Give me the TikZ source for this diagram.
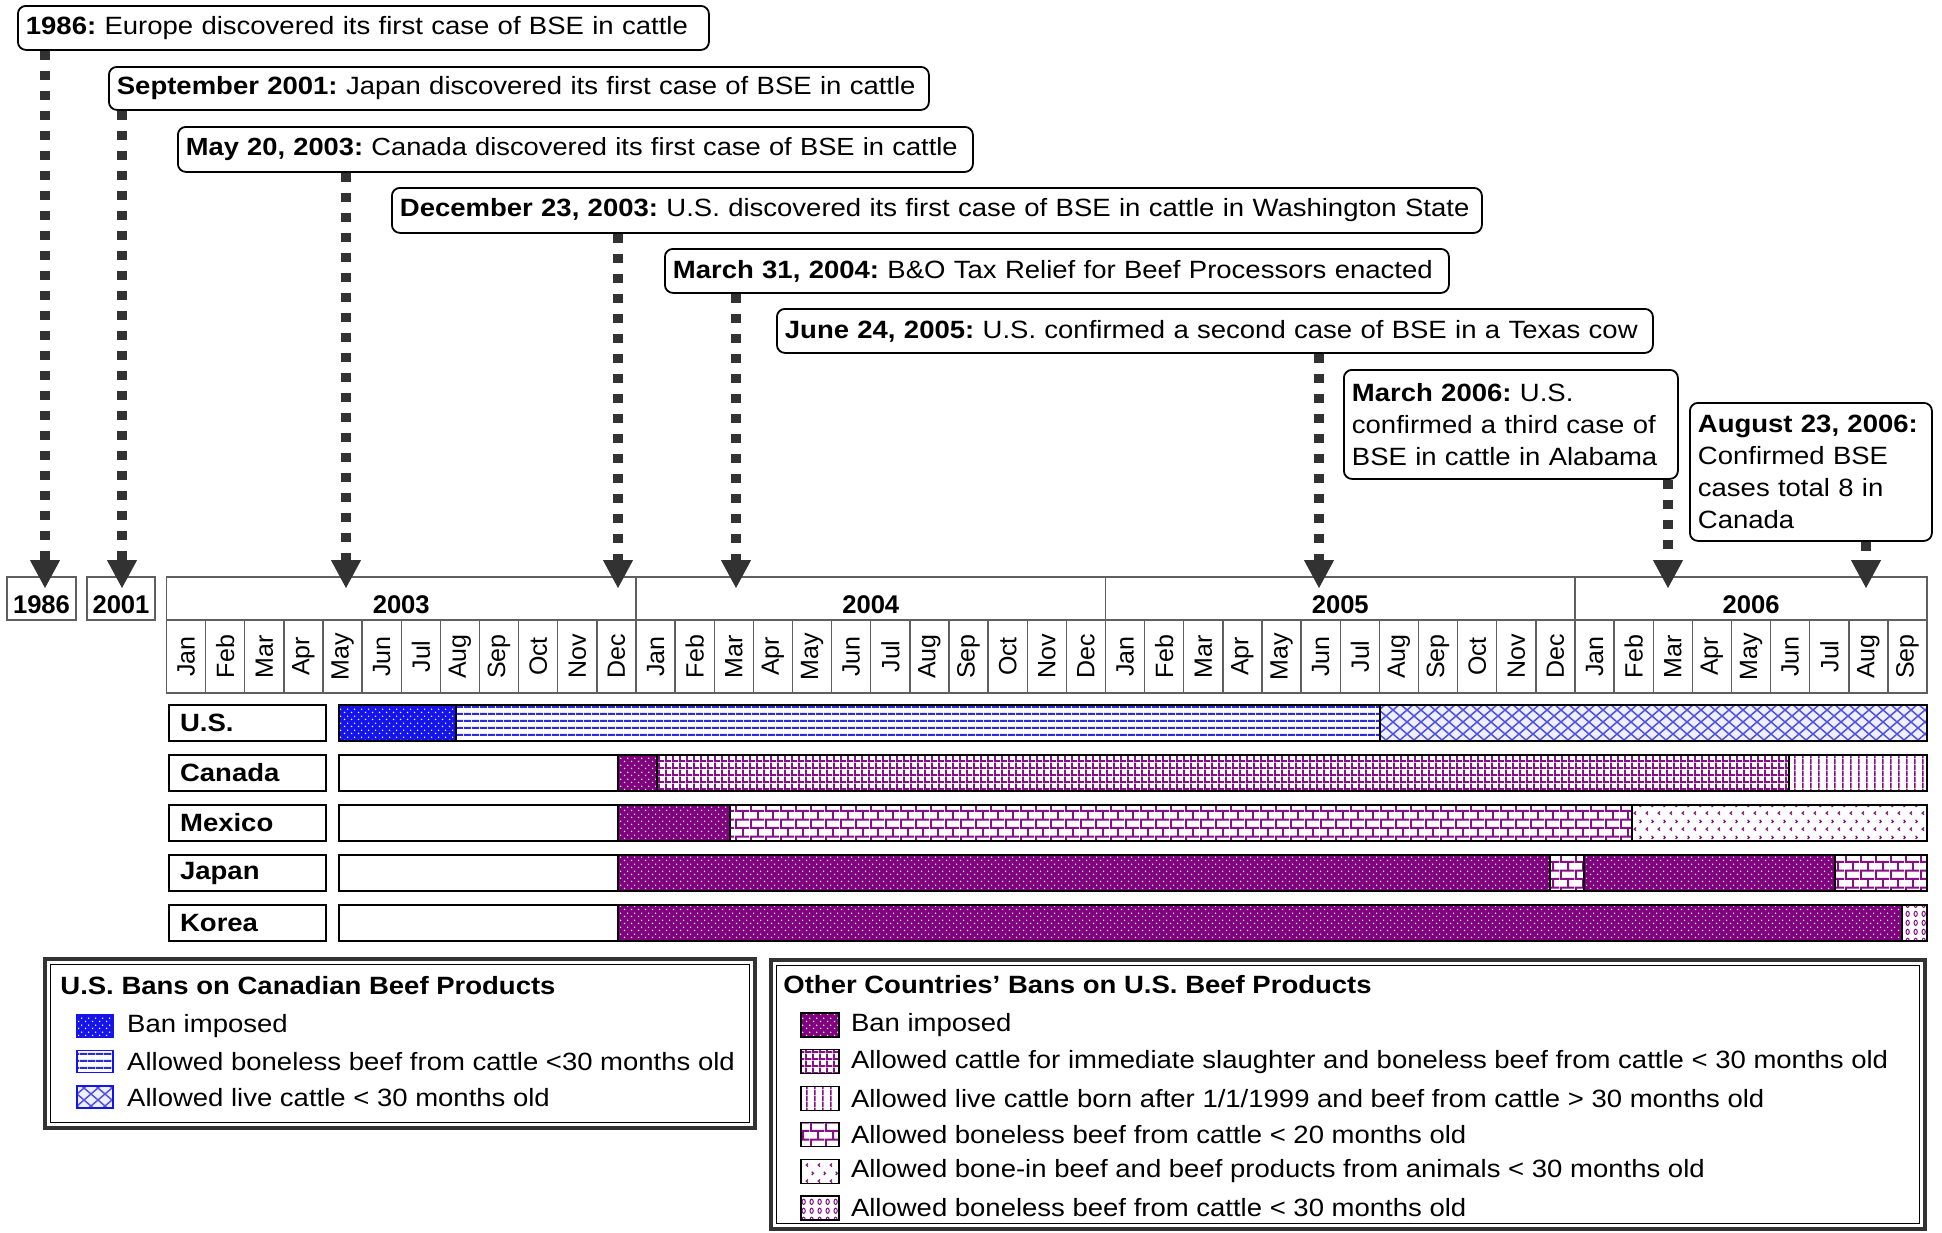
\documentclass[tikz,border=0pt]{standalone}
\usepackage{fontspec}
\setmainfont{Liberation Sans}
\newfontfamily\widesf[FakeStretch=1.1]{Liberation Sans}
\usepackage{tikz}
\usetikzlibrary{arrows.meta, positioning, patterns}
\frenchspacing

\definecolor{gridgray}{RGB}{95,95,95}
\definecolor{arrowgray}{RGB}{50,50,50}
\definecolor{usblue}{RGB}{20,20,235}
\definecolor{lineblue}{RGB}{45,45,215}
\definecolor{hatchblue}{RGB}{80,80,225}
\definecolor{hatchbg}{RGB}{238,240,255}
\definecolor{banpurple}{RGB}{128,0,128}
\definecolor{allowpurple}{RGB}{135,15,135}

% fill patterns for the bars
\pgfdeclarepatternformonly{bandots}{\pgfpointorigin}{\pgfpoint{3.5pt}{3.5pt}}{\pgfpoint{3.5pt}{3.5pt}}{
  \pgfpathcircle{\pgfpoint{0.875pt}{0.875pt}}{0.45pt}
  \pgfpathcircle{\pgfpoint{2.625pt}{2.625pt}}{0.45pt}
  \pgfusepath{fill}}
\pgfdeclarepatternformonly{hstripes}{\pgfpointorigin}{\pgfpoint{4pt}{3.4pt}}{\pgfpoint{4pt}{3.4pt}}{
  \pgfpathrectangle{\pgfpointorigin}{\pgfpoint{4pt}{1.1pt}}
  \pgfusepath{fill}}
\pgfdeclarepatternformonly{xhatch}{\pgfpoint{-0.5pt}{-0.5pt}}{\pgfpoint{7.5pt}{6.5pt}}{\pgfpoint{7pt}{6pt}}{
  \pgfsetlinewidth{0.75pt}
  \pgfpathmoveto{\pgfpoint{0pt}{0pt}}\pgfpathlineto{\pgfpoint{7pt}{6pt}}
  \pgfpathmoveto{\pgfpoint{0pt}{6pt}}\pgfpathlineto{\pgfpoint{7pt}{0pt}}
  \pgfusepath{stroke}}
\pgfdeclarepatternformonly{smallgrid}{\pgfpointorigin}{\pgfpoint{3.5pt}{3.3pt}}{\pgfpoint{3.5pt}{3.3pt}}{
  \pgfpathrectangle{\pgfpointorigin}{\pgfpoint{1pt}{3.3pt}}
  \pgfpathrectangle{\pgfpointorigin}{\pgfpoint{3.5pt}{1pt}}
  \pgfusepath{fill}}
\pgfdeclarepatternformonly{vstripes}{\pgfpointorigin}{\pgfpoint{3.8pt}{3pt}}{\pgfpoint{3.8pt}{3pt}}{
  \pgfpathrectangle{\pgfpointorigin}{\pgfpoint{0.85pt}{3pt}}
  \pgfusepath{fill}}
\pgfdeclarepatternformonly{brickwall}{\pgfpointorigin}{\pgfpoint{7.5pt}{8.4pt}}{\pgfpoint{7.5pt}{8.4pt}}{
  \pgfpathrectangle{\pgfpointorigin}{\pgfpoint{7.5pt}{1pt}}
  \pgfpathrectangle{\pgfpoint{0pt}{4.2pt}}{\pgfpoint{7.5pt}{1pt}}
  \pgfpathrectangle{\pgfpointorigin}{\pgfpoint{1pt}{4.2pt}}
  \pgfpathrectangle{\pgfpoint{3.75pt}{4.2pt}}{\pgfpoint{1pt}{4.2pt}}
  \pgfusepath{fill}}
\pgfdeclarepatternformonly{chevrons}{\pgfpointorigin}{\pgfpoint{6pt}{8pt}}{\pgfpoint{6pt}{8pt}}{
  \pgfsetlinewidth{0.65pt}
  \pgfpathmoveto{\pgfpoint{2.1pt}{1.2pt}}\pgfpathlineto{\pgfpoint{1.2pt}{2pt}}\pgfpathlineto{\pgfpoint{2.1pt}{2.8pt}}
  \pgfpathmoveto{\pgfpoint{4.1pt}{5.2pt}}\pgfpathlineto{\pgfpoint{5pt}{6pt}}\pgfpathlineto{\pgfpoint{4.1pt}{6.8pt}}
  \pgfusepath{stroke}}
\pgfdeclarepatternformonly{ovals}{\pgfpointorigin}{\pgfpoint{4pt}{4.5pt}}{\pgfpoint{4pt}{4.5pt}}{
  \pgfsetlinewidth{0.55pt}
  \pgfpathellipse{\pgfpoint{2pt}{2.25pt}}{\pgfpoint{0.9pt}{0pt}}{\pgfpoint{0pt}{1.4pt}}
  \pgfusepath{stroke}}

\tikzstyle{callout} = [draw, rectangle, rounded corners=4pt, line width=0.9pt, fill=white, anchor=north west, align=left, inner xsep=4pt, inner ysep=1pt, font=\widesf\fontsize{12.5}{16}\selectfont]
\tikzstyle{evarrow} = [draw=arrowgray, line width=5pt, dash pattern=on 4.5pt off 5.5pt, -{Triangle[width=15pt, length=14pt, line width=0.5pt]}]
\tikzstyle{yearcell} = [draw=gridgray, line width=0.7pt, minimum height=21.5pt, inner sep=0pt, text height=14.5pt, text depth=0pt, font=\bfseries\fontsize{12.8}{15}\selectfont]
\tikzstyle{monthcell} = [draw=gridgray, line width=0.7pt, rotate=90, minimum width=36.5pt, minimum height=19.5625pt, inner sep=0pt, font=\fontsize{12.5}{15}\selectfont]
\tikzstyle{country} = [draw, line width=1.1pt, anchor=west, minimum height=18pt, text width=67.5pt, inner xsep=5.5pt, inner ysep=0pt, align=left, font=\widesf\bfseries\fontsize{12.5}{15}\selectfont]
\tikzstyle{seg} = [draw=black, line width=0.9pt]
\tikzstyle{usban} = [preaction={fill=usblue}, pattern=bandots, pattern color=white]
\tikzstyle{usbone} = [preaction={fill=white}, pattern=hstripes, pattern color=lineblue]
\tikzstyle{uslive} = [preaction={fill=hatchbg}, pattern=xhatch, pattern color=hatchblue]
\tikzstyle{ban} = [preaction={fill=banpurple}, pattern=bandots, pattern color=white]
\tikzstyle{slaughter} = [preaction={fill=white}, pattern=smallgrid, pattern color=allowpurple]
\tikzstyle{livecattle} = [preaction={fill=white}, pattern=vstripes, pattern color=allowpurple]
\tikzstyle{under20} = [preaction={fill=white}, pattern=brickwall, pattern color=allowpurple]
\tikzstyle{bonein} = [preaction={fill=white}, pattern=chevrons, pattern color=allowpurple]
\tikzstyle{under30} = [preaction={fill=white}, pattern=ovals, pattern color=allowpurple]
\tikzstyle{legouter} = [draw=black!80, line width=1.6pt]
\tikzstyle{leginner} = [draw=black, line width=0.6pt]
\tikzstyle{legtitle} = [anchor=west, inner sep=0pt, font=\widesf\bfseries\fontsize{12.5}{15}\selectfont]
\tikzstyle{legtext} = [inner sep=0pt, font=\widesf\fontsize{12.5}{15}\selectfont]
\tikzstyle{swatch} = [line width=0.8pt, minimum width=18pt, minimum height=11pt, inner sep=0pt]
\tikzstyle{swatchb} = [draw=black, line width=0.6pt, minimum width=19pt, minimum height=12pt, inner sep=0pt]

\begin{document}
\begin{tikzpicture}[x=0.5pt, y=-0.5pt]
    \useasboundingbox (0,0) rectangle (1942,1232);

    % events
    \node[callout, text width=337.5pt, minimum height=22pt] (e1986) at (17,5) {\textbf{1986:} Europe discovered its first case of BSE in cattle};
    \node[callout, text width=402pt, minimum height=21.5pt] (e2001) at (108,66) {\textbf{September 2001:} Japan discovered its first case of BSE in cattle};
    \node[callout, text width=389.5pt, minimum height=22.5pt, font=\widesf\fontsize{12.4}{16}\selectfont] (e2003a) at (177,126) {\textbf{May 20, 2003:} Canada discovered its first case of BSE in cattle};
    \node[callout, text width=537pt, minimum height=22.5pt] (e2003b) at (391,187) {\textbf{December 23, 2003:} U.S. discovered its first case of BSE in cattle in Washington State};
    \node[callout, text width=384pt, minimum height=22pt] (e2004) at (664,248) {\textbf{March 31, 2004:} B\&O Tax Relief for Beef Processors enacted};
    \node[callout, text width=430pt, minimum height=22pt] (e2005) at (776,308) {\textbf{June 24, 2005:} U.S. confirmed a second case of BSE in a Texas cow};
    \node[callout, text width=159pt, minimum height=54.5pt] (e2006a) at (1343,369) {\textbf{March 2006:} U.S.\\confirmed a third case of\\BSE in cattle in Alabama};
    \node[callout, text width=113pt, minimum height=69pt] (e2006b) at (1689,402) {\textbf{August 23, 2006:}\\Confirmed BSE\\cases total 8 in\\Canada};

    % time axis
    \node[yearcell, minimum width=34.5pt] (y1986) at (41.5,598.5) {1986};
    \node[yearcell, minimum width=34pt] (y2001) at (121,598.5) {2001};
    \node[yearcell, minimum width=234.75pt] (y2003) at (401.25,598.5) {2003};
    \node[yearcell, minimum width=234.75pt] (y2004) at (870.75,598.5) {2004};
    \node[yearcell, minimum width=234.75pt] (y2005) at (1340.25,598.5) {2005};
    \node[yearcell, minimum width=176.06pt] (y2006) at (1751.06,598.5) {2006};
    \foreach \yr/\last [count=\y from 0] in {2003/11,2004/11,2005/11,2006/8} {
        \foreach \mon [count=\k from 0] in {Jan,Feb,Mar,Apr,May,Jun,Jul,Aug,Sep,Oct,Nov,Dec} {
            \ifnum\k>\last\relax\else
                \node[monthcell] (m\yr-\k) at ({166.5+39.125*(12*\y+\k+0.5)},656.5) {\mon};
            \fi
        }
    }

    % arrow tips on the axis
    \coordinate (t1986) at (45,588);
    \coordinate (t2001) at (122,588);
    \coordinate (t2003a) at (346,588);
    \coordinate (t2003b) at (618,588);
    \coordinate (t2004) at (736,588);
    \coordinate (t2005) at (1319,588);
    \coordinate (t2006a) at (1668,588);
    \coordinate (t2006b) at (1866,588);

    \draw [evarrow] (e1986.south -| t1986) -- (t1986);
    \draw [evarrow] (e2001.south -| t2001) -- (t2001);
    \draw [evarrow] (e2003a.south -| t2003a) -- (t2003a);
    \draw [evarrow] (e2003b.south -| t2003b) -- (t2003b);
    \draw [evarrow] (e2004.south -| t2004) -- (t2004);
    \draw [evarrow] (e2005.south -| t2005) -- (t2005);
    \draw [evarrow] (e2006a.south -| t2006a) -- (t2006a);
    \draw [evarrow] (e2006b.south -| t2006b) -- (t2006b);

    % U.S.
    \node[country] (us) at (168,723) {U.S.};
    \draw[seg, usban] (339,705) rectangle (456,741);
    \draw[seg, usbone] (456,705) rectangle (1380,741);
    \draw[seg, uslive] (1380,705) rectangle (1927,741);
    % Canada
    \node[country] (canada) at (168,773) {Canada};
    \draw[seg, fill=white] (339,755) rectangle (618,791);
    \draw[seg, ban] (618,755) rectangle (657,791);
    \draw[seg, slaughter] (657,755) rectangle (1789,791);
    \draw[seg, livecattle] (1789,755) rectangle (1927,791);
    % Mexico
    \node[country] (mexico) at (168,823) {Mexico};
    \draw[seg, fill=white] (339,805) rectangle (618,841);
    \draw[seg, ban] (618,805) rectangle (730,841);
    \draw[seg, under20] (730,805) rectangle (1632,841);
    \draw[seg, bonein] (1632,805) rectangle (1927,841);
    % Japan
    \node[country] (japan) at (168,873) {Japan};
    \draw[seg, fill=white] (339,855) rectangle (618,891);
    \draw[seg, ban] (618,855) rectangle (1550,891);
    \draw[seg, under20] (1550,855) rectangle (1584,891);
    \draw[seg, ban] (1584,855) rectangle (1835,891);
    \draw[seg, under20] (1835,855) rectangle (1927,891);
    % Korea
    \node[country] (korea) at (168,923) {Korea};
    \draw[seg, fill=white] (339,905) rectangle (618,941);
    \draw[seg, ban] (618,905) rectangle (1902,941);
    \draw[seg, under30] (1902,905) rectangle (1927,941);

    % legend: U.S. bans
    \draw[legouter] (45,959) rectangle (755,1128);
    \draw[leginner] (50.5,964.5) rectangle (749.5,1122.5);
    \node[legtitle] (usleg) at (60,986) {U.S. Bans on Canadian Beef Products};
    \node[swatch, usban, draw=usblue] (sw1) at (95,1026) {};
    \node[legtext, right=6.5pt of sw1] (lab1) {Ban imposed};
    \node[swatch, usbone, draw=usblue, below=6pt of sw1] (sw2) {};
    \node[legtext, right=6.5pt of sw2] (lab2) {Allowed boneless beef from cattle <30 months old};
    \node[swatch, uslive, draw=usblue, below=6pt of sw2] (sw3) {};
    \node[legtext, right=6.5pt of sw3] (lab3) {Allowed live cattle < 30 months old};

    % legend: other countries
    \draw[legouter] (771,960) rectangle (1925,1229);
    \draw[leginner] (776.5,965.5) rectangle (1919.5,1223.5);
    \node[legtitle] (othleg) at (783,985) {Other Countries’ Bans on U.S. Beef Products};
    \node[swatchb, ban] (sw4) at (820,1025) {};
    \node[legtext, right=5.5pt of sw4] (lab4) {Ban imposed};
    \node[swatchb, slaughter, below=5.7pt of sw4] (sw5) {};
    \node[legtext, right=5.5pt of sw5] (lab5) {Allowed cattle for immediate slaughter and boneless beef from cattle < 30 months old};
    \node[swatchb, livecattle, below=5.7pt of sw5] (sw6) {};
    \node[legtext, right=5.5pt of sw6] (lab6) {Allowed live cattle born after 1/1/1999 and beef from cattle > 30 months old};
    \node[swatchb, under20, below=5.7pt of sw6] (sw7) {};
    \node[legtext, right=5.5pt of sw7] (lab7) {Allowed boneless beef from cattle < 20 months old};
    \node[swatchb, bonein, below=5.7pt of sw7] (sw8) {};
    \node[legtext, right=5.5pt of sw8] (lab8) {Allowed bone-in beef and beef products from animals < 30 months old};
    \node[swatchb, under30, below=5.7pt of sw8] (sw9) {};
    \node[legtext, right=5.5pt of sw9] (lab9) {Allowed boneless beef from cattle < 30 months old};
\end{tikzpicture}
\end{document}
